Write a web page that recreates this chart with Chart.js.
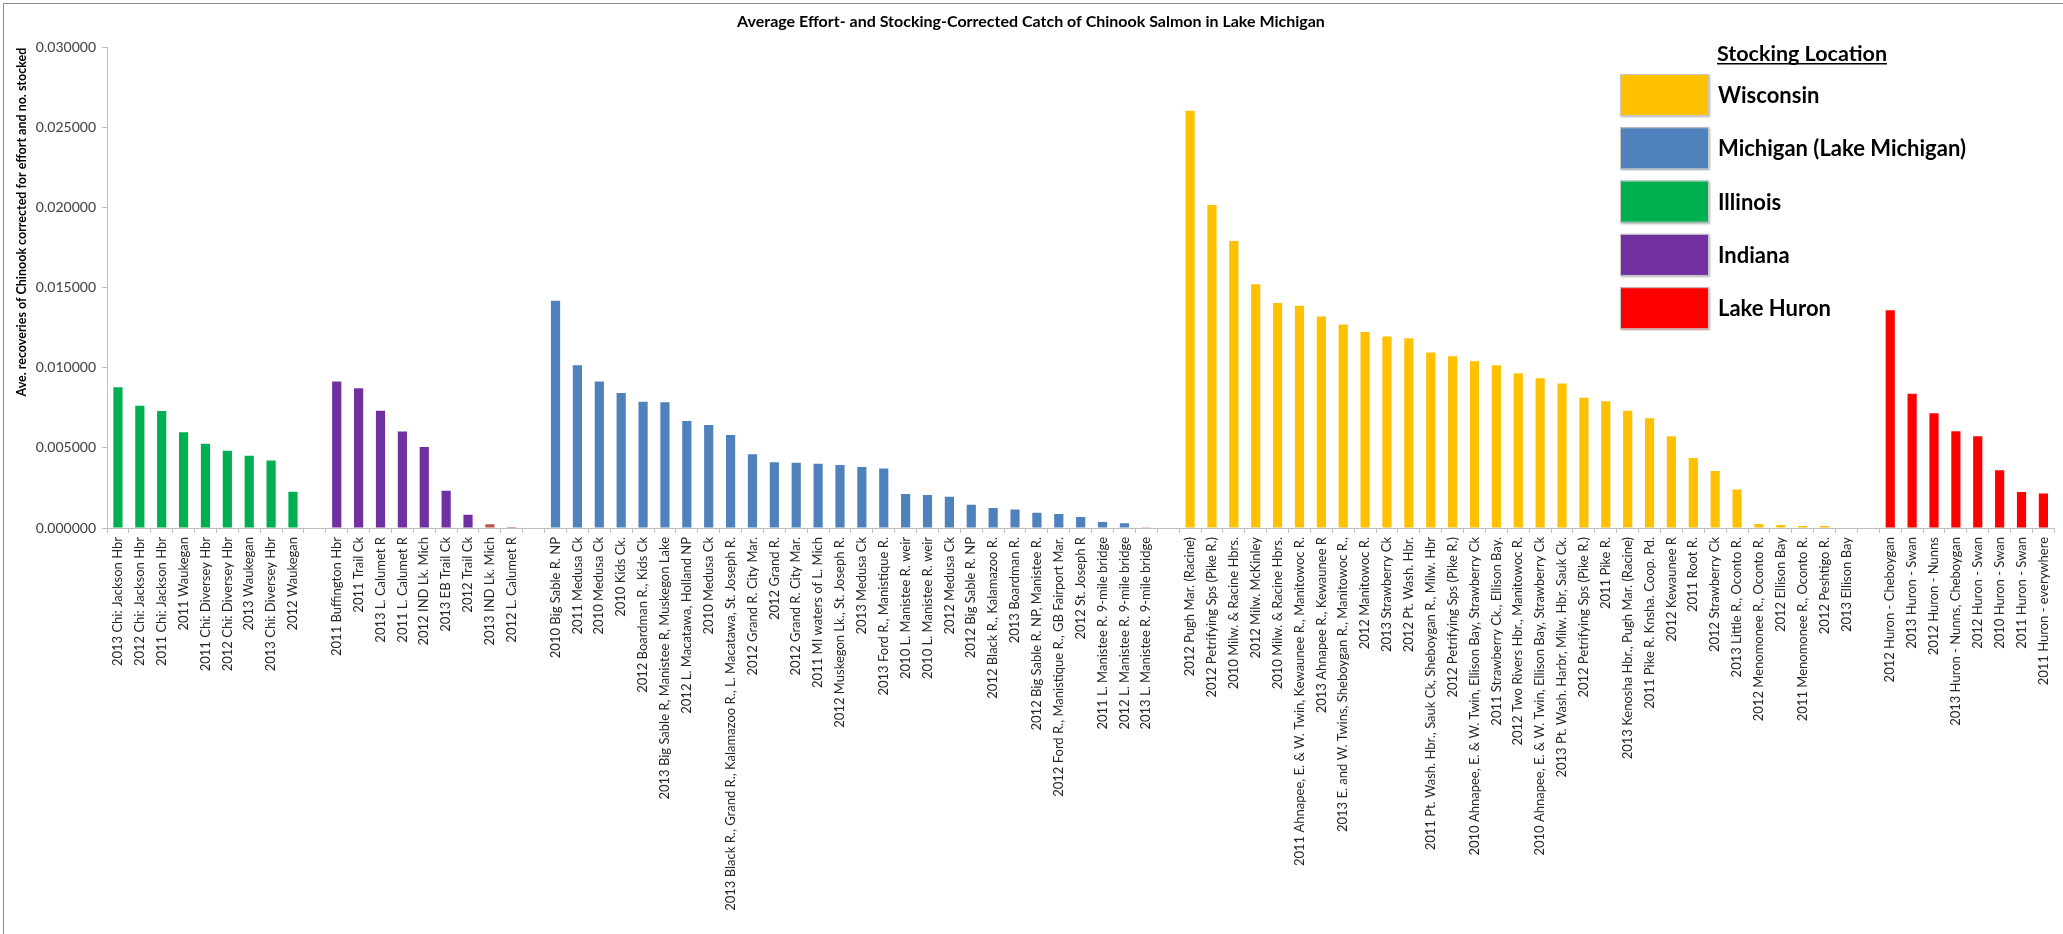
<!DOCTYPE html>
<html>
<head>
<meta charset="utf-8">
<script src="https://cdn.jsdelivr.net/npm/chart.js@4.4.1/dist/chart.umd.min.js"></script>
<style>
	html, body { margin: 0; padding: 0; background: #fff; }
	#wrap { position: relative; width: 2063px; height: 934px; overflow: hidden; }
	#wrap canvas { position: absolute; left: 0; top: 0; }
	#frame { position: absolute; left: 3px; top: 3px; width: 2100px; height: 1000px; border: 1px solid #8c8c8c; pointer-events: none; }
</style>
</head>
<body>
<div id="wrap">
	<canvas id="chartCatch" width="2063" height="934"></canvas>
	<div id="frame"></div>
</div>
<script>
// site labels, in the order they appear on the x axis ('' = spacer between groups)
var categories = [
	"2013 Chi: Jackson Hbr", "2012 Chi: Jackson Hbr", "2011 Chi: Jackson Hbr", "2011 Waukegan",
	"2011 Chi: Diversey Hbr", "2012 Chi: Diversey Hbr", "2013 Waukegan", "2013 Chi: Diversey Hbr",
	"2012 Waukegan",
	"",
	"2011 Buffington Hbr", "2011 Trail Ck", "2013 L. Calumet R", "2011 L. Calumet R", "2012 IND Lk. Mich",
	"2013 EB Trail Ck", "2012 Trail Ck", "2013 IND Lk. Mich", "2012 L. Calumet R",
	"",
	"2010 Big Sable R. NP", "2011 Medusa Ck", "2010 Medusa Ck", "2010 Kids Ck.", "2012 Boardman R., Kids Ck",
	"2013 Big Sable R, Manistee R, Muskegon Lake", "2012 L. Macatawa, Holland NP", "2010 Medusa Ck",
	"2013 Black R., Grand R., Kalamazoo R., L. Macatawa, St. Joseph R.", "2012 Grand R. City Mar.",
	"2012 Grand R.", "2012 Grand R. City Mar.", "2011 MI waters of L. Mich", "2012 Muskegon Lk., St. Joseph R.",
	"2013 Medusa Ck", "2013 Ford R., Manistique R.", "2010 L. Manistee R. weir", "2010 L. Manistee R. weir",
	"2012 Medusa Ck", "2012 Big Sable R. NP", "2012 Black R., Kalamazoo R.", "2013 Boardman R.",
	"2012 Big Sable R. NP, Manistee R.", "2012 Ford R., Manistique R., GB Fairport Mar.", "2012 St. Joseph R",
	"2011 L. Manistee R. 9-mile bridge", "2012 L. Manistee R. 9-mile bridge", "2013 L. Manistee R. 9-mile bridge",
	"",
	"2012 Pugh Mar. (Racine)", "2012 Petrifying Sps (Pike R.)", "2010 Milw. & Racine Hbrs.", "2012 Milw. McKinley",
	"2010 Milw. & Racine Hbrs.", "2011 Ahnapee, E. & W. Twin, Kewaunee R., Manitowoc R.", "2013 Ahnapee R., Kewaunee R",
	"2013 E. and W. Twins, Sheboygan R., Manitowoc R.,", "2012 Manitowoc R.", "2013 Strawberry Ck", "2012 Pt. Wash. Hbr.",
	"2011 Pt. Wash. Hbr., Sauk Ck, Sheboygan R., Milw. Hbr", "2012 Petrifying Sps (Pike R.)",
	"2010 Ahnapee, E. & W. Twin, Ellison Bay, Strawberry Ck", "2011 Strawberry Ck., Ellison Bay.",
	"2012 Two Rivers Hbr., Manitowoc R.", "2010 Ahnapee, E. & W. Twin, Ellison Bay, Strawberry Ck",
	"2013 Pt. Wash. Harbr, Milw. Hbr, Sauk Ck.", "2012 Petrifying Sps (Pike R.)", "2011 Pike R.",
	"2013 Kenosha Hbr., Pugh Mar. (Racine)", "2011 Pike R. Knsha. Coop. Pd.", "2012 Kewaunee R", "2011 Root R.",
	"2012 Strawberry Ck", "2013 Little R., Oconto R.", "2012 Menomonee R., Oconto R.", "2012 Ellison Bay",
	"2011 Menomonee R., Oconto R.", "2012 Peshtigo R.", "2013 Ellison Bay",
	"",
	"2012 Huron - Cheboygan", "2013 Huron - Swan", "2012 Huron - Nunns", "2013 Huron - Nunns, Cheboygan",
	"2012 Huron - Swan", "2010 Huron - Swan", "2011 Huron - Swan", "2011 Huron - everywhere"
];

// ave. recoveries corrected for effort and no. stocked
var catchRate = [
	0.00879, 0.00763, 0.00731, 0.00598, 0.00527, 0.00483, 0.00452, 0.00421, 0.00227,
	null,
	0.00915, 0.00873, 0.00733, 0.00602, 0.00506, 0.00233, 0.00083, 0.00023, 0.00006,
	null,
	0.01419, 0.01017, 0.00915, 0.00844, 0.00788, 0.00785, 0.00669, 0.00644, 0.00581, 0.00460,
	0.00410, 0.00408, 0.00402, 0.00394, 0.00381, 0.00371, 0.00213, 0.00206, 0.00195, 0.00145,
	0.00125, 0.00115, 0.00095, 0.00088, 0.00068, 0.00038, 0.00030, 0.00005,
	null,
	0.02606, 0.02017, 0.01792, 0.01523, 0.01406, 0.01388, 0.01321, 0.01271, 0.01225, 0.01196,
	0.01185, 0.01096, 0.01073, 0.01042, 0.01017, 0.00967, 0.00935, 0.00902, 0.00814, 0.00792,
	0.00733, 0.00685, 0.00573, 0.00438, 0.00356, 0.00240, 0.00025, 0.00019, 0.00013, 0.00013,
	0,
	null,
	0.01360, 0.00838, 0.00717, 0.00604, 0.00573, 0.00360, 0.00225, 0.00215
];

// stocking location of each bar
var stockingRegion = [
	"IL", "IL", "IL", "IL", "IL", "IL", "IL", "IL", "IL",
	"",
	"IN", "IN", "IN", "IN", "IN", "IN", "IN", "IN", "IN",
	"",
	"MI", "MI", "MI", "MI", "MI", "MI", "MI", "MI", "MI", "MI",
	"MI", "MI", "MI", "MI", "MI", "MI", "MI", "MI", "MI", "MI",
	"MI", "MI", "MI", "MI", "MI", "MI", "MI", "MI",
	"",
	"WI", "WI", "WI", "WI", "WI", "WI", "WI", "WI", "WI", "WI",
	"WI", "WI", "WI", "WI", "WI", "WI", "WI", "WI", "WI", "WI",
	"WI", "WI", "WI", "WI", "WI", "WI", "WI", "WI", "WI", "WI",
	"WI",
	"",
	"HU", "HU", "HU", "HU", "HU", "HU", "HU", "HU"
];

var legendRegions = ["WI", "MI", "IL", "IN", "HU"];
var legendLabels = ["Wisconsin", "Michigan (Lake Michigan)", "Illinois", "Indiana", "Lake Huron"];

var yTicks = [0, 0.005, 0.010, 0.015, 0.020, 0.025, 0.030];

// styling
var regionColor = { WI: "#ffc000", MI: "#4f81bd", IL: "#00b050", IN: "#7030a0", HU: "#ff0000", "": "#ffffff" };
var plainBars = [17, 18, 47]; // tiny bars left in the default red
var FONT = "Lato, 'Open Sans', sans-serif";

var barColors = stockingRegion.map(function (r, i) {
	return plainBars.indexOf(i) >= 0 ? "#c0504d" : regionColor[r];
});

var stockingLegend = {
	id: "stockingLegend",
	afterDraw: function (chart) {
		var ctx = chart.ctx;
		ctx.save();
		ctx.fillStyle = "#000";
		ctx.font = "bold 21.5px " + FONT;
		ctx.textBaseline = "alphabetic";
		ctx.textAlign = "left";
		var head = "Stocking Location";
		ctx.fillText(head, 1717, 61);
		var w = ctx.measureText(head).width;
		ctx.fillRect(1717, 63, w, 1.5);

		ctx.font = "bold 22px " + FONT;
		ctx.textBaseline = "middle";
		for (var i = 0; i < legendRegions.length; i++) {
			var y = 74 + i * 53.3;
			ctx.save();
			ctx.shadowColor = "rgba(0,0,0,0.3)";
			ctx.shadowBlur = 2;
			ctx.shadowOffsetX = 1;
			ctx.shadowOffsetY = 1;
			ctx.fillStyle = regionColor[legendRegions[i]];
			ctx.fillRect(1620, y, 89, 42);
			ctx.restore();
			ctx.strokeStyle = "#c8c8c8";
			ctx.lineWidth = 1;
			ctx.strokeRect(1620.5, y + 0.5, 88, 41);
			ctx.fillStyle = "#000";
			ctx.fillText(legendLabels[i], 1718, y + 22);
		}
		ctx.restore();
	}
};

new Chart(document.getElementById("chartCatch"), {
	type: "bar",
	data: {
		labels: categories,
		datasets: [{
			label: "Ave. recoveries",
			data: catchRate,
			backgroundColor: barColors,
			borderWidth: 0,
			categoryPercentage: 0.42,
			barPercentage: 1
		}]
	},
	options: {
		responsive: false,
		animation: false,
		layout: { padding: { left: 0, right: 1, top: 0, bottom: 0 } },
		plugins: {
			legend: { display: false },
			tooltip: { enabled: false },
			title: {
				display: true,
				text: "Average Effort- and Stocking-Corrected Catch of Chinook Salmon in Lake Michigan",
				color: "#000",
				font: { family: FONT, size: 16, weight: "bold" },
				padding: { top: 12, bottom: 16.5 }
			}
		},
		scales: {
			x: {
				offset: true,
				grid: { display: true, drawOnChartArea: false, drawTicks: true, tickLength: 5, color: "#bfbfbf", offset: true },
				border: { color: "#bfbfbf" },
				ticks: {
					autoSkip: false,
					maxRotation: 90,
					minRotation: 90,
					padding: 4,
					color: "#262626",
					font: { family: FONT, size: 13 }
				},
				afterFit: function (s) { s.height = 934 - 528; }
			},
			y: {
				min: 0,
				max: 0.03,
				afterBuildTicks: function (s) { s.ticks = yTicks.map(function (v) { return { value: v }; }); },
				grid: { display: true, drawOnChartArea: false, drawTicks: true, tickLength: 5, color: "#bfbfbf" },
				border: { color: "#bfbfbf" },
				ticks: {
					padding: 6,
					color: "#404040",
					font: { family: FONT, size: 14 },
					callback: function (v) { return Number(v).toFixed(6); }
				},
				title: {
					display: true,
					text: "Ave. recoveries of Chinook corrected for effort and no. stocked",
					align: "end",
					color: "#000",
					font: { family: FONT, size: 12.5, weight: "bold" },
					padding: { top: 14, bottom: 0 }
				},
				afterFit: function (s) { s.width = 107; }
			}
		}
	},
	plugins: [stockingLegend]
});
</script>
</body>
</html>
